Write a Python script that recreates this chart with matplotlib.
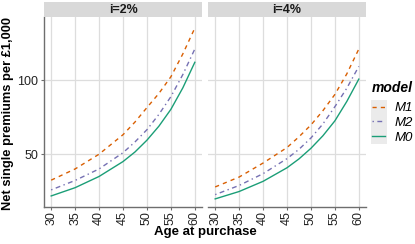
import numpy as np
import matplotlib
matplotlib.use("Agg")
import matplotlib.pyplot as plt
from matplotlib.lines import Line2D
from matplotlib.patches import Rectangle

plt.rcParams['font.family'] = ['Liberation Sans', 'DejaVu Sans']

# ==========================================
# Data
# ==========================================

ages = [30, 35, 40, 45, 47.5, 50, 52.5, 55, 57.5, 60]

# i = 2%
m1_2 = [32.4, 40.0, 50.0, 63.2, 71.8, 81.6, 91.2, 102.5, 118.0, 135.5]
m2_2 = [25.8, 32.2, 40.0, 51.0, 58.3, 66.6, 77.0, 89.0, 104.0, 121.3]
m0_2 = [21.7, 27.3, 34.9, 45.0, 51.5, 59.5, 69.0, 80.4, 95.0, 112.3]

# i = 4%
m1_4 = [27.8, 34.5, 44.0, 54.5, 61.8, 69.8, 79.5, 90.5, 104.5, 121.3]
m2_4 = [22.6, 28.8, 36.8, 47.0, 53.3, 61.0, 70.5, 82.2, 94.8, 109.5]
m0_4 = [19.7, 24.7, 31.6, 40.8, 46.8, 54.0, 62.5, 72.6, 85.8, 100.9]

panels = ["i=2%", "i=4%"]
models = ["M1", "M2", "M0"]
colors = {"M1": "#D95F02", "M2": "#7570B3", "M0": "#1B9E77"}
styles = {"M1": (0, (3, 3)), "M2": (0, (1, 2.5, 3.5, 2.5)), "M0": "-"}

series = [
    {"M1": m1_2, "M2": m2_2, "M0": m0_2},
    {"M1": m1_4, "M2": m2_4, "M0": m0_4},
]

xticks = [30, 35, 40, 45, 50, 55, 60]
yticks = [50, 100]

# ==========================================
# Figure
# ==========================================

W, H = 415, 244
fig = plt.figure(figsize=(W / 100, H / 100), dpi=100)
fig.patch.set_facecolor("white")

lefts = [44, 208]
pw = 158
ptop, pbot = 17, 207.3

for k, name in enumerate(panels):
    ax = fig.add_axes([
        lefts[k] / W,
        1 - pbot / H,
        pw / W,
        (pbot - ptop) / H
    ])
    ax.set_facecolor("white")

    for m in models:
        ax.plot(
            ages,
            series[k][m],
            color=colors[m],
            linestyle=styles[m],
            lw=1.0
        )

    ax.set_xlim(28.5, 61.5)
    ax.set_ylim(14, 143)
    ax.set_xticks(xticks)
    ax.set_yticks(yticks)
    ax.grid(True, color="#DDDDDD", lw=0.9)
    ax.set_axisbelow(True)

    for s in ["top", "right"]:
        ax.spines[s].set_visible(False)
    ax.spines["bottom"].set_color("#6E6E6E")
    ax.spines["bottom"].set_linewidth(1.0)

    ax.tick_params(axis="x", length=2, width=0.8, color="#6E6E6E",
                   pad=1, labelsize=9, labelcolor="#222222",
                   labelrotation=90)

    if k == 0:
        ax.spines["left"].set_color("#6E6E6E")
        ax.spines["left"].set_linewidth(1.0)
        ax.tick_params(axis="y", length=2, width=0.8, color="#6E6E6E",
                       pad=2, labelsize=9, labelcolor="#222222")
    else:
        ax.spines["left"].set_visible(False)
        ax.tick_params(axis="y", length=0, labelleft=False)

    # strip
    sax = fig.add_axes([
        lefts[k] / W,
        1 - 16.7 / H,
        pw / W,
        14.7 / H
    ])
    sax.set_facecolor("#D9D9D9")
    sax.set_xticks([])
    sax.set_yticks([])
    for s in sax.spines.values():
        s.set_visible(False)
    sax.text(0.5, 0.45, name, ha="center", va="center",
             fontsize=9, fontweight="bold", color="#1A1A1A",
             transform=sax.transAxes)

# ==========================================
# Axis titles
# ==========================================

fig.text(205 / W, 1 - 232 / H, "Age at purchase", ha="center",
         va="center", fontsize=9.5, fontweight="bold")
fig.text(8 / W, 1 - 114 / H, "Net single premiums per £1,000",
         ha="center", va="center", rotation=90,
         fontsize=9.3, fontweight="bold")

# ==========================================
# Legend
# ==========================================

fig.patches.append(Rectangle(
    (371 / W, 1 - 144 / H), 16 / W, 44.5 / H,
    transform=fig.transFigure, facecolor="#EBEBEB",
    edgecolor="none", zorder=0
))

fig.text(372 / W, 1 - 88 / H, "model", ha="left", va="center",
         fontsize=10, fontweight="bold", style="italic")

handles = [
    Line2D([], [], color=colors[m], linestyle=styles[m], lw=1.0)
    for m in models
]
leg = fig.legend(
    handles, models,
    loc="center left",
    bbox_to_anchor=(372 / W, 1 - 123 / H),
    frameon=False,
    handlelength=1.0,
    handletextpad=0.7,
    labelspacing=0.2,
    prop={"size": 9.5, "style": "italic"},
    borderaxespad=0,
    borderpad=0
)

fig.savefig("out.png", dpi=100)
